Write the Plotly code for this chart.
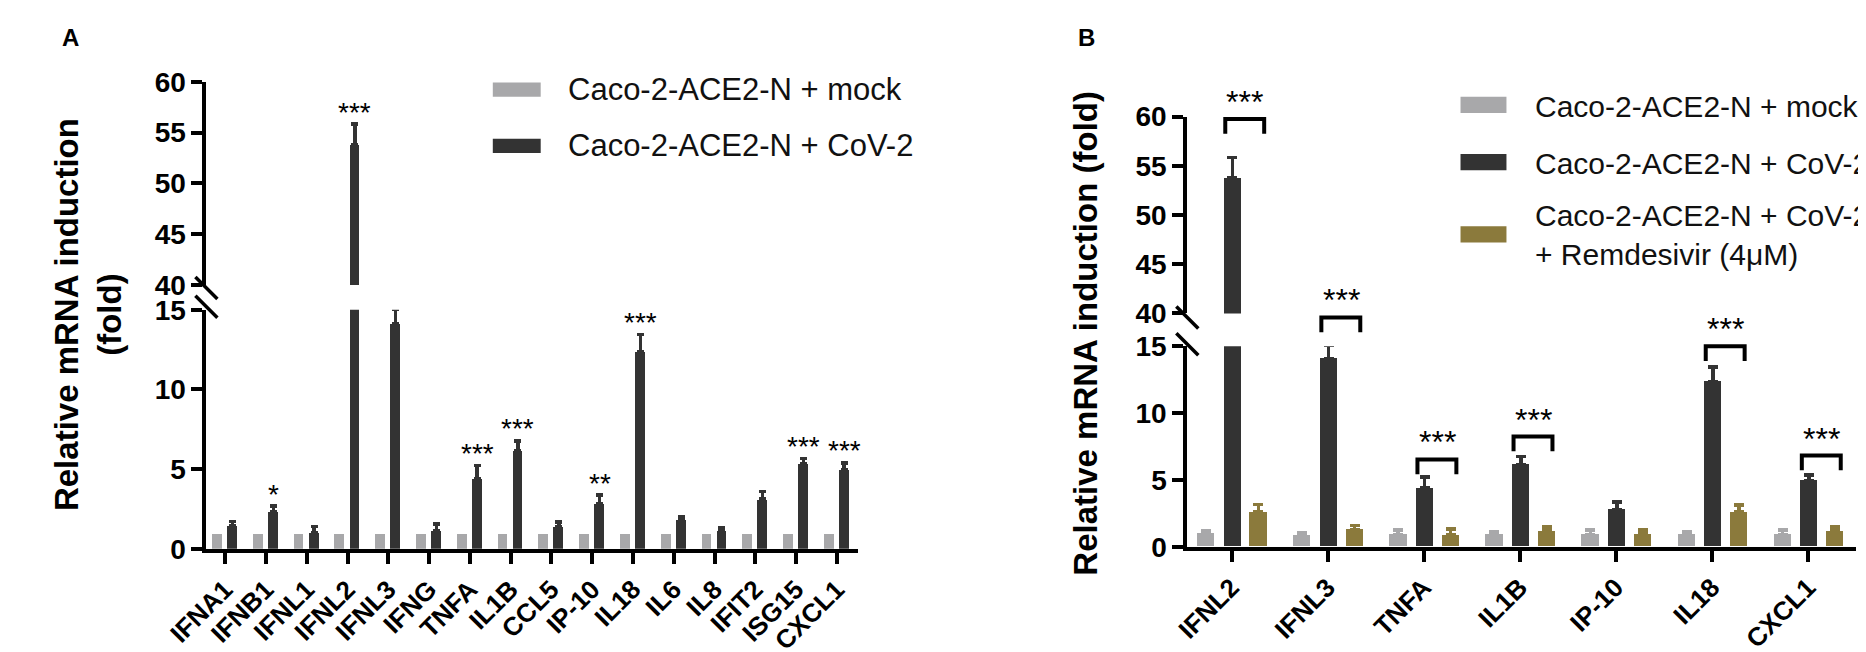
import plotly.graph_objects as go

# ---- data: panel A ----
genes_a = ["IFNA1", "IFNB1", "IFNL1", "IFNL2", "IFNL3", "IFNG", "TNFA", "IL1B",
           "CCL5", "IP-10", "IL18", "IL6", "IL8", "IFIT2", "ISG15", "CXCL1"]
mock_a = [0.96, 0.96, 0.96, 0.96, 0.96, 0.96, 0.96, 0.96,
          0.96, 0.96, 0.96, 0.96, 0.96, 0.96, 0.96, 0.96]
cov_a = [1.47, 2.35, 1.02, 53.76, 14.11, 1.15, 4.40, 6.14,
         1.36, 2.81, 12.37, 1.81, 1.16, 3.11, 5.35, 4.97]
cov_a_err = [0.24, 0.32, 0.39, 2.07, 0.94, 0.40, 0.82, 0.63,
             0.33, 0.55, 1.07, 0.18, 0.15, 0.49, 0.30, 0.42]
stars_a = ["", "*", "", "***", "***", "", "***", "***",
           "", "**", "***", "", "", "", "***", "***"]

# ---- data: panel B ----
genes_b = ["IFNL2", "IFNL3", "TNFA", "IL1B", "IP-10", "IL18", "CXCL1"]
mock_b = [1.02, 0.89, 0.92, 0.95, 0.92, 0.92, 0.92]
mock_b_err = [0.20, 0.20, 0.33, 0.18, 0.33, 0.20, 0.33]
cov_b = [53.76, 14.11, 4.40, 6.14, 2.81, 12.37, 4.97]
cov_b_err = [2.07, 0.94, 0.82, 0.63, 0.55, 1.07, 0.42]
rem_b = [2.61, 1.30, 0.89, 1.19, 0.95, 2.61, 1.19]
rem_b_err = [0.55, 0.30, 0.45, 0.29, 0.30, 0.51, 0.29]
bracket_b = [59.76, 17.16, 6.54, 8.25, None, 15.0, 6.83]
stars_b = ["***", "***", "***", "***", "", "***", "***"]

legend_a = ["Caco-2-ACE2-N + mock", "Caco-2-ACE2-N + CoV-2"]
legend_b = ["Caco-2-ACE2-N + mock", "Caco-2-ACE2-N + CoV-2",
            "Caco-2-ACE2-N + CoV-2<br>+ Remdesivir (4μM)"]

GREY = "#a8a8aa"
DARK = "#333333"
OLIVE = "#8b7a3c"
FONT = "Liberation Sans, Arial, sans-serif"
W, H = 1866, 652


def px(x):
    return x / W


def py(y):
    return 1 - y / H


def err(arr, color, half):
    return dict(type="data", symmetric=False, array=arr, arrayminus=[0] * len(arr),
                color=color, thickness=3.5, width=half)


fig = go.Figure()

# panel A bars (lower and upper broken axes)
xa = list(range(len(genes_a)))
fig.add_trace(go.Bar(x=xa, y=mock_a, width=0.24, offset=-0.31, marker_color=GREY,
                     xaxis="x", yaxis="y"))
for ya in ["y", "y2"]:
    fig.add_trace(go.Bar(x=xa, y=cov_a, width=0.24, offset=0.06, marker_color=DARK,
                         error_y=err(cov_a_err, DARK, 3.5), xaxis="x", yaxis=ya))

# panel B bars
xb = list(range(len(genes_b)))
fig.add_trace(go.Bar(x=xb, y=mock_b, width=0.18, offset=-0.355, marker_color=GREY,
                     error_y=err(mock_b_err, GREY, 5), xaxis="x2", yaxis="y3"))
for ya in ["y3", "y4"]:
    fig.add_trace(go.Bar(x=xb, y=cov_b, width=0.18, offset=-0.08, marker_color=DARK,
                         error_y=err(cov_b_err, DARK, 5), xaxis="x2", yaxis=ya))
fig.add_trace(go.Bar(x=xb, y=rem_b, width=0.18, offset=0.19, marker_color=OLIVE,
                     error_y=err(rem_b_err, OLIVE, 5), xaxis="x2", yaxis="y3"))

# significance brackets in panel B
for i, top in enumerate(bracket_b):
    if top is None:
        continue
    upper = top > 40
    leg = 1.5 if upper else 1.1
    fig.add_trace(go.Scatter(
        x=[i - 0.065, i - 0.065, i + 0.34, i + 0.34],
        y=[top - leg, top, top, top - leg],
        mode="lines", line=dict(color="black", width=4),
        xaxis="x2", yaxis="y4" if upper else "y5"))

fig.update_traces(showlegend=False)
fig.update_traces(marker_line_width=0, selector=dict(type="bar"))

ax_common = dict(showline=True, linecolor="black", linewidth=4, ticks="outside",
                 tickcolor="black", tickwidth=4, ticklen=11, showgrid=False,
                 zeroline=False)
yfont = dict(family=FONT, size=28, color="black", weight="bold")

lo_a = [py(552), py(301)]
lo_b = [py(550), py(339.5)]

fig.update_layout(
    width=W, height=H, margin=dict(l=0, r=0, t=0, b=0),
    paper_bgcolor="white", plot_bgcolor="rgba(0,0,0,0)",
    barmode="overlay", bargap=0,
    font=dict(family=FONT, color="black"),
    xaxis=dict(domain=[px(160), px(826.7)], range=[-0.46, 15.52], anchor="y",
               tickvals=xa, ticktext=genes_a, tickangle=-45,
               tickfont=dict(family=FONT, size=26, color="black", weight="bold"), **ax_common),
    yaxis=dict(domain=lo_a, range=[0, 15], anchor="x", tickvals=[0, 5, 10, 15],
               tickfont=yfont, **ax_common),
    yaxis2=dict(domain=[py(275), py(61.7)], range=[40, 60], anchor="x",
                tickvals=[40, 45, 50, 55, 60], tickfont=yfont, **ax_common),
    xaxis2=dict(domain=[px(1163.5), px(1847.7)], range=[-0.46, 6.5], anchor="y3",
                tickvals=xb, ticktext=genes_b, tickangle=-45,
                tickfont=dict(family=FONT, size=26, color="black", weight="bold"), **ax_common),
    yaxis3=dict(domain=lo_b, range=[0, 15], anchor="x2", tickvals=[0, 5, 10, 15],
                tickfont=yfont, **ax_common),
    yaxis4=dict(domain=[py(305), py(98.3)], range=[40, 60], anchor="x2",
                tickvals=[40, 45, 50, 55, 60], tickfont=yfont, **ax_common),
    # invisible axis sharing panel B's lower scale but reaching into the gap
    yaxis5=dict(domain=[lo_b[0], 1], range=[0, 15 * (1 - lo_b[0]) / (lo_b[1] - lo_b[0])],
                anchor="x2", visible=False),
)

# axis break marks
for xr, ya, anchor, y0, y1 in [("x", "y", 1, 14, -8), ("x", "y2", 0, 8, -14),
                               ("x2", "y3", 1, 13, -9), ("x2", "y4", 0, 7, -15)]:
    fig.add_shape(type="line", xref=xr + " domain", yref=ya + " domain",
                  xsizemode="pixel", xanchor=0, x0=-11, x1=11,
                  ysizemode="pixel", yanchor=anchor, y0=y0, y1=y1,
                  line=dict(color="black", width=3.5))

# stars panel A
for i, s in enumerate(stars_a):
    if not s:
        continue
    top = cov_a[i] + cov_a_err[i]
    fig.add_annotation(x=i + 0.18, y=top, xref="x", yref="y2" if top > 40 else "y",
                       text=s, showarrow=False, xanchor="center", yanchor="middle",
                       yshift=12, font=dict(size=28, color="black"))

# stars panel B
for i, s in enumerate(stars_b):
    if not s:
        continue
    top = bracket_b[i]
    fig.add_annotation(x=i + 0.14, y=top, xref="x2", yref="y4" if top > 40 else "y5",
                       text=s, showarrow=False, xanchor="center", yanchor="middle",
                       yshift=17, font=dict(size=32, color="black"))

# y titles and panel letters
fig.add_annotation(x=px(39.5), y=py(306), xref="paper", yref="paper", textangle=-90,
                   xanchor="center", yanchor="middle",
                   text="Relative mRNA induction<br>(fold)", showarrow=False,
                   font=dict(size=33, color="black", weight="bold"))
fig.add_annotation(x=px(1059), y=py(326), xref="paper", yref="paper", textangle=-90,
                   xanchor="center", yanchor="middle",
                   text="Relative mRNA induction (fold)", showarrow=False,
                   font=dict(size=33, color="black", weight="bold"))
fig.add_annotation(x=px(21), y=py(15.5), xref="paper", yref="paper", text="A",
                   xanchor="center", yanchor="middle",
                   showarrow=False, font=dict(size=24, color="black", weight="bold"))
fig.add_annotation(x=px(1060), y=py(15.5), xref="paper", yref="paper", text="B",
                   xanchor="center", yanchor="middle",
                   showarrow=False, font=dict(size=24, color="black", weight="bold"))

# legends
for lab, col, yc in zip(legend_a, [GREY, DARK], [70, 129]):
    fig.add_shape(type="rect", xref="paper", yref="paper", x0=px(453), x1=px(502),
                  y0=py(yc + 7.5), y1=py(yc - 7.5), fillcolor=col, line_width=0)
    fig.add_annotation(x=px(528), y=py(yc), xref="paper", yref="paper", text=lab,
                       xanchor="left", yanchor="middle", showarrow=False, align="left",
                       font=dict(size=31, color="#111111"))
for lab, col, yc, ty in zip(legend_b, [GREY, DARK, OLIVE], [86, 146, 222], [87.5, 148, 223]):
    fig.add_shape(type="rect", xref="paper", yref="paper", x0=px(1443), x1=px(1490),
                  y0=py(yc + 8.5), y1=py(yc - 8.5), fillcolor=col, line_width=0)
    fig.add_annotation(x=px(1517), y=py(ty), xref="paper", yref="paper", text=lab,
                       xanchor="left", yanchor="middle", showarrow=False, align="left",
                       font=dict(size=30, color="#111111"))

fig.write_html("out.html")
